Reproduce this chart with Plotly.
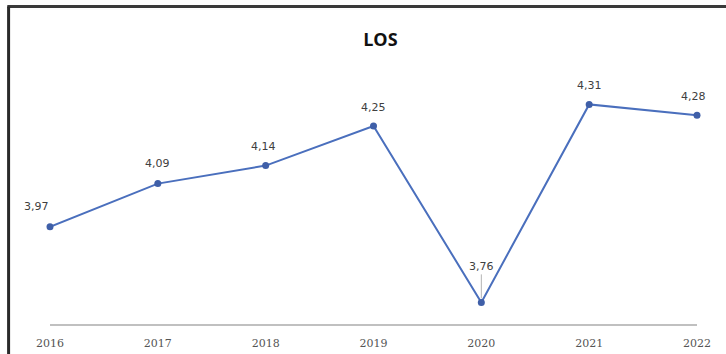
import plotly.graph_objects as go

years = ["2016", "2017", "2018", "2019", "2020", "2021", "2022"]
los = [3.97, 4.09, 4.14, 4.25, 3.76, 4.31, 4.28]

# label offsets (px) relative to each point
label_dx = [-14, 0, -2, 0, 0, 0, -4]
label_dy = [20, 20, 19, 19, 0, 19, 19]

line_color = "#4a6fbd"
marker_color = "#3f5fa8"
label_font = dict(size=11, color="#404040", family="DejaVu Sans")

fig = go.Figure()
fig.add_trace(go.Scatter(
    x=years, y=los, mode="lines+markers",
    line=dict(color=line_color, width=2),
    marker=dict(color=marker_color, size=7),
    cliponaxis=False,
    hoverinfo="skip",
))

for i, (v, dx, dy) in enumerate(zip(los, label_dx, label_dy)):
    txt = f"{v:.2f}".replace(".", ",")
    if years[i] == "2020":
        fig.add_annotation(
            x=i, y=v, xref="x", yref="y", text=txt, showarrow=True, arrowhead=0,
            arrowwidth=0.8, arrowcolor="#a0a0a0", ax=0, ay=-36,
            standoff=4, font=label_font,
        )
    else:
        fig.add_annotation(
            x=i, y=v, xref="x", yref="y", text=txt, showarrow=False,
            xshift=dx, yshift=dy, font=label_font,
        )

# outer frame (top and left edges)
fig.add_shape(type="line", xref="paper", yref="paper",
              x0=-0.066, x1=1.06, y0=1.26, y1=1.26,
              line=dict(color="#3a3a3a", width=3))
fig.add_shape(type="line", xref="paper", yref="paper",
              x0=-0.064, x1=-0.064, y0=1.26, y1=-0.2,
              line=dict(color="#2a2a2a", width=3))

fig.update_layout(
    width=726, height=354,
    margin=dict(l=50, r=29, t=72, b=30),
    paper_bgcolor="white", plot_bgcolor="white",
    showlegend=False,
    title=dict(text="<b>LOS</b>", x=0.524, xanchor="center", y=0.887, yanchor="middle",
               font=dict(size=18, color="#111111", family="Open Sans")),
    xaxis=dict(
        type="category", range=[0, 6], showgrid=False, zeroline=False,
        showline=True, linecolor="#c0c0c0", linewidth=1.5, automargin=False,
        ticks="", tickfont=dict(size=11, color="#555555", family="DejaVu Serif"),
        ticklabelstandoff=8,
    ),
    yaxis=dict(range=[3.7, 4.4], visible=False, automargin=False),
)

fig.write_html("out.html")
